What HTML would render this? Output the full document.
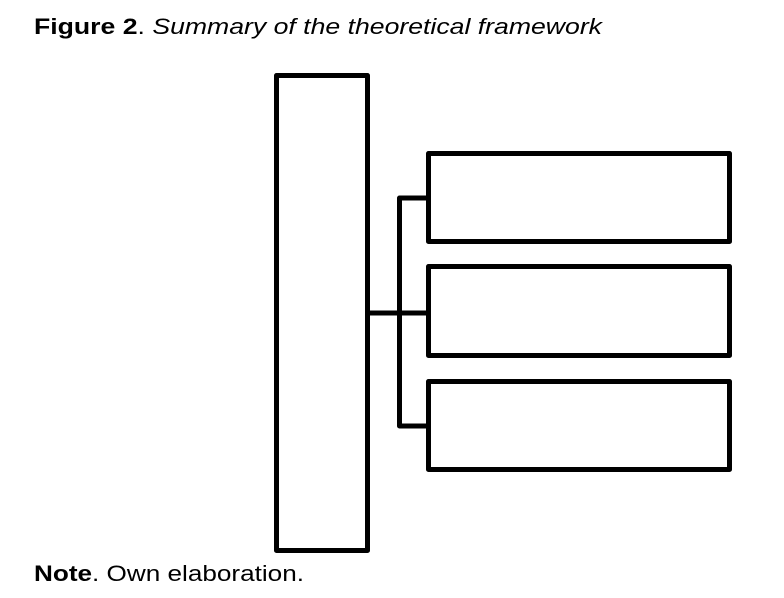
<!DOCTYPE html>
<html><head><meta charset="utf-8"><style>
html,body{margin:0;padding:0;background:#fff;}
svg{display:block;}
</style></head><body>
<svg width="784" height="598" viewBox="0 0 784 598" xmlns="http://www.w3.org/2000/svg">
<text x="34" y="34" font-family="Liberation Sans, Arial, sans-serif" font-size="22" fill="#000" textLength="568" lengthAdjust="spacingAndGlyphs"><tspan font-weight="bold">Figure 2</tspan>. <tspan font-style="italic">Summary of the theoretical framework</tspan></text>
<g fill="none" stroke="#000" stroke-width="5" stroke-linejoin="round">
<rect x="276.5" y="75.5" width="91" height="475"/>
<rect x="428.5" y="153.5" width="301" height="88"/>
<rect x="428.5" y="266.5" width="301" height="89"/>
<rect x="428.5" y="381.5" width="301" height="88"/>
<polyline points="428,198 399.5,198 399.5,426 428,426"/>
<line x1="368" y1="313" x2="428" y2="313"/>
</g>
<text x="34" y="581" font-family="Liberation Sans, Arial, sans-serif" font-size="22" fill="#000" textLength="270" lengthAdjust="spacingAndGlyphs"><tspan font-weight="bold">Note</tspan>. Own elaboration.</text>
</svg>
</body></html>
